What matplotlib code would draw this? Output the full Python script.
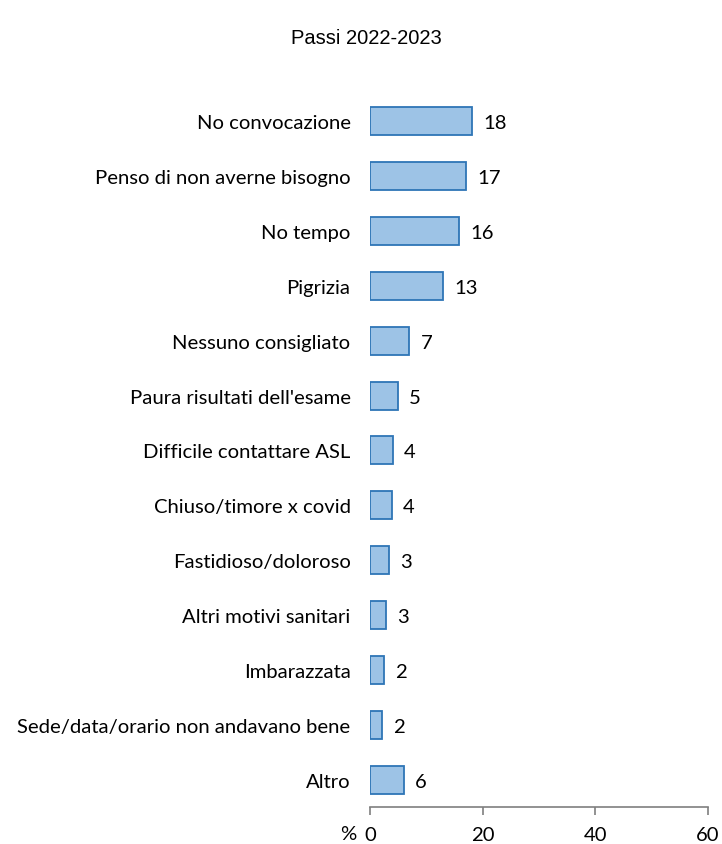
import matplotlib.pyplot as plt

plt.rcParams['font.family'] = ['Lato', 'DejaVu Sans']

categorie = ['No convocazione', 'Penso di non averne bisogno', 'No tempo', 'Pigrizia',
             'Nessuno consigliato', "Paura risultati dell'esame", 'Difficile contattare ASL',
             'Chiuso/timore x covid', 'Fastidioso/doloroso', 'Altri motivi sanitari',
             'Imbarazzata', 'Sede/data/orario non andavano bene', 'Altro']
# percentuali (le etichette mostrano il valore arrotondato)
valori = [18.1, 17.0, 15.8, 13.0, 7.0, 5.0, 4.0, 3.9, 3.4, 2.8, 2.4, 2.2, 6.0]
tick_x = [0, 20, 40, 60]

fs = 14.6

fig = plt.figure(figsize=(7.22, 8.45), dpi=100)
ax = fig.add_axes([0.5125, 0.0438, 0.4681, 0.8438])

pos = list(range(len(categorie)))
bars = ax.barh(pos, valori, height=0.51, color='#9DC3E6', edgecolor='#2E75B6', linewidth=1.3)
for b, v in zip(bars, valori):
    ax.annotate('%.0f' % v, (b.get_width(), b.get_y() + b.get_height() / 2),
                xytext=(8, 0), textcoords='offset points', va='center_baseline', ha='left',
                fontsize=fs)

ax.set_yticks(pos)
ax.set_yticklabels(categorie, fontsize=fs, va='center_baseline')
ax.set_ylim(len(categorie) - 0.5, -0.5)
ax.set_xlim(0, 60)
ax.set_xticks(tick_x)
ax.set_xticklabels([str(t) for t in tick_x], fontsize=fs)
ax.tick_params(axis='y', length=0, pad=14)
ax.tick_params(axis='x', length=6, width=1.2, color='#7f7f7f', pad=8, direction='out')

for s in ['top', 'right', 'left']:
    ax.spines[s].set_visible(False)
ax.spines['bottom'].set_color('#7f7f7f')
ax.spines['bottom'].set_linewidth(1.2)

fig.text(348 / 722, 1 - 835 / 845, '%', ha='center', va='center', fontsize=fs)
fig.text(0.507, 0.955, 'Passi 2022-2023', ha='center', va='center', fontsize=14.5,
         family=['Liberation Sans', 'DejaVu Sans'])

fig.savefig('out.png', dpi=100)
